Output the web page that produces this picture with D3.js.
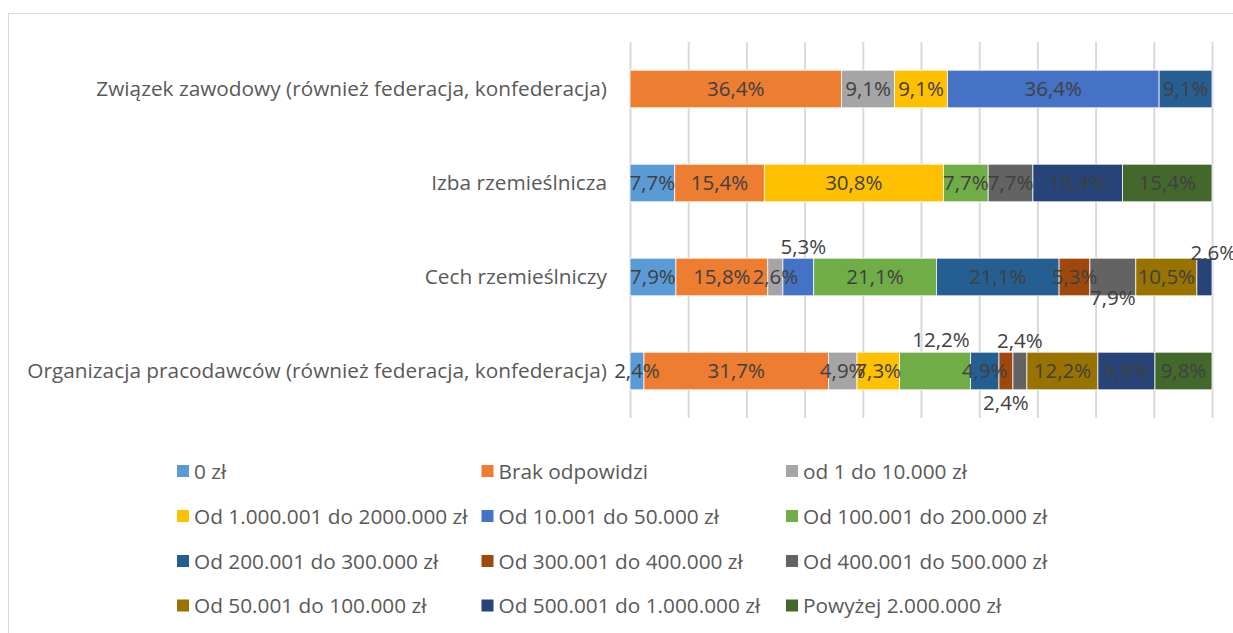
<!DOCTYPE html>
<html>
<head>
<meta charset="utf-8">
<script src="https://cdn.jsdelivr.net/npm/d3@7"></script>
<style>
  html, body { margin: 0; padding: 0; background: #ffffff; }
  svg { display: block; }
  text { font-family: "Open Sans", Lato, sans-serif; }
</style>
</head>
<body>
<svg id="chart" width="1233" height="633"></svg>
<script>
// ---- DATA ----
const categories = [
  "Związek zawodowy (również federacja, konfederacja)",
  "Izba rzemieślnicza",
  "Cech rzemieślniczy",
  "Organizacja pracodawców (również federacja, konfederacja)"
];
const seriesNames = [
  "0 zł",
  "Brak odpowidzi",
  "od 1 do 10.000 zł",
  "Od 1.000.001 do 2000.000 zł",
  "Od 10.001 do 50.000 zł",
  "Od 100.001 do 200.000 zł",
  "Od 200.001 do 300.000 zł",
  "Od 300.001 do 400.000 zł",
  "Od 400.001 do 500.000 zł",
  "Od 50.001 do 100.000 zł",
  "Od 500.001 do 1.000.000 zł",
  "Powyżej 2.000.000 zł"
];
const seriesColors = [
  "#5B9BD5", "#ED7D31", "#A5A5A5", "#FFC000", "#4472C4", "#70AD47",
  "#255E91", "#9E480E", "#636363", "#997300", "#264478", "#43682B"
];
// values (%) per category, in series order
const valuesZwiazek      = [0,   36.4, 9.1, 9.1,  36.4, 0,    9.1,  0,   0,   0,    0,    0];
const valuesIzba         = [7.7, 15.4, 0,   30.8, 0,    7.7,  0,    0,   7.7, 0,    15.4, 15.4];
const valuesCech         = [7.9, 15.8, 2.6, 0,    5.3,  21.1, 21.1, 5.3, 7.9, 10.5, 2.6,  0];
const valuesOrganizacja  = [2.4, 31.7, 4.9, 7.3,  0,    12.2, 4.9,  2.4, 2.4, 12.2, 9.8,  9.8];
const xTicks = [0, 0.1, 0.2, 0.3, 0.4, 0.5, 0.6, 0.7, 0.8, 0.9, 1];

// data-label nudges (px) for labels Excel moved off the bar
const labelNudges = [
  { cat: 2, series: 4,  dx: 5, dy: -30 },
  { cat: 2, series: 10, dx: 9, dy: -24 },
  { cat: 2, series: 8,  dx: 0, dy: 21 },
  { cat: 3, series: 5,  dx: 6, dy: -31 },
  { cat: 3, series: 8,  dx: 0, dy: -30 },
  { cat: 3, series: 7,  dx: 0, dy: 32 }
];

// ---- BUILD TABLE ----
const rows = [valuesZwiazek, valuesIzba, valuesCech, valuesOrganizacja];
const table = categories.map((c, i) => {
  const o = { category: c, idx: i };
  seriesNames.forEach((s, j) => { o[s] = rows[i][j]; });
  return o;
});

const svg = d3.select("#chart");

// chart-area border
svg.append("rect")
  .attr("x", 8.5).attr("y", 13.5)
  .attr("width", 1240).attr("height", 640)
  .attr("fill", "#ffffff")
  .attr("stroke", "#d9d9d9").attr("stroke-width", 1);

const x = d3.scaleLinear().domain([0, 1]).range([630, 1212]);
const y = d3.scaleBand().domain(categories).range([42, 418])
  .paddingInner(0.6).paddingOuter(0.3);

// gridlines
const gx = svg.append("g")
  .attr("transform", "translate(0,418)")
  .call(d3.axisBottom(x).tickValues(xTicks).tickSize(-376).tickFormat(""));
gx.select(".domain").remove();
gx.selectAll(".tick line").attr("stroke", "#d9d9d9").attr("stroke-width", 2);

// stack
const stack = d3.stack().keys(seriesNames).offset(d3.stackOffsetExpand);
const stacked = stack(table);
const color = d3.scaleOrdinal().domain(seriesNames).range(seriesColors);

const layer = svg.append("g").selectAll("g")
  .data(stacked).join("g")
  .attr("fill", d => color(d.key));

layer.selectAll("rect")
  .data(d => d.map(p => ({ key: d.key, p })))
  .join("rect")
  .attr("x", d => x(d.p[0]))
  .attr("y", d => y(d.p.data.category))
  .attr("width", d => Math.max(0, x(d.p[1]) - x(d.p[0])))
  .attr("height", y.bandwidth())
  .attr("stroke", "#ffffff")
  .attr("stroke-width", 0.75);

// data labels
const fmt = v => d3.format(".1f")(v).replace(".", ",") + "%";
const labels = [];
stacked.forEach((s, si) => {
  s.forEach(p => {
    const v = p.data[s.key];
    if (!v) return;
    const ci = p.data.idx;
    const n = labelNudges.find(q => q.cat === ci && q.series === si);
    labels.push({
      text: fmt(v),
      x: (x(p[0]) + x(p[1])) / 2 + (n ? n.dx : 0),
      y: y(p.data.category) + y.bandwidth() / 2 + (n ? n.dy : 0)
    });
  });
});
svg.append("g").selectAll("text")
  .data(labels).join("text")
  .attr("x", d => d.x).attr("y", d => d.y)
  .attr("dy", "0.36em")
  .attr("text-anchor", "middle")
  .attr("font-size", 20.5)
  .attr("fill", "#404040")
  .text(d => d.text);

// category axis
const gy = svg.append("g")
  .attr("transform", "translate(630,0)")
  .call(d3.axisLeft(y).tickSize(0).tickPadding(23));
gy.select(".domain").remove();
gy.selectAll("text")
  .attr("font-size", 20.8)
  .attr("font-family", "'Open Sans', Lato, sans-serif")
  .attr("fill", "#595959");

// legend
const legendCols = [177, 481.5, 786];
const legendRows = [471, 516, 561, 605.5];
const lg = svg.append("g").selectAll("g")
  .data(seriesNames).join("g")
  .attr("transform", (d, i) => `translate(${legendCols[i % 3]},${legendRows[Math.floor(i / 3)]})`);
lg.append("rect")
  .attr("x", 0).attr("y", -6)
  .attr("width", 12).attr("height", 12)
  .attr("fill", d => color(d));
lg.append("text")
  .attr("x", 17).attr("y", 0).attr("dy", "0.36em")
  .attr("font-size", 20.8)
  .attr("fill", "#595959")
  .text(d => d);
</script>
</body>
</html>
